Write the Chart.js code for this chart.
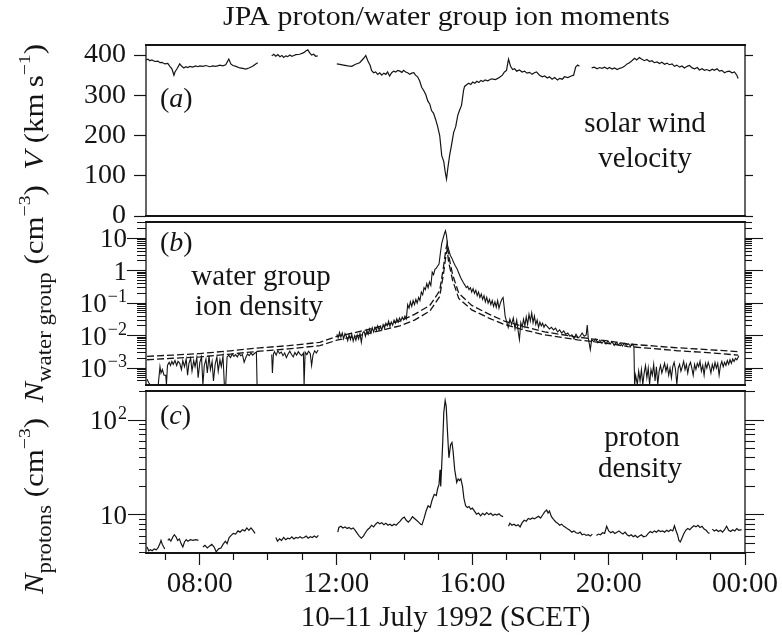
<!DOCTYPE html>
<html>
<head>
<meta charset="utf-8">
<script src="https://cdn.jsdelivr.net/npm/chart.js@4.4.1/dist/chart.umd.min.js"></script>
<style>
html,body{margin:0;padding:0;background:#fff;}
#wrap{position:relative;width:782px;height:640px;overflow:hidden;background:#fff;}
#wrap canvas{position:absolute;left:0;top:0;}
</style>
</head>
<body>
<div id="wrap">
<canvas id="cA" width="782" height="640"></canvas>
<canvas id="cB" width="782" height="640"></canvas>
<canvas id="cC" width="782" height="640"></canvas>
</div>
<script>
// ---------------- DATA (hours since 10 July 00:00, value) ----------------
const timeLabelHours = [8, 12, 16, 20, 24];
const timeTickLabels = ['08:00', '12:00', '16:00', '20:00', '00:00'];
const hourTicks = [7, 8, 9, 10, 11, 12, 13, 14, 15, 16, 17, 18, 19, 20, 21, 22, 23, 24];
const velocityTicks = [0, 100, 200, 300, 400];
const waterDecades = [0.001, 0.01, 0.1, 1, 10];
const waterTickLabels = [['10', '\u22123'], ['10', '\u22122'], ['10', '\u22121'], ['1', ''], ['10', '']];
const protonDecades = [10, 100];
const protonTickLabels = [['10', ''], ['10', '2']];

const velocityData = [
[6.42,388],[6.48,390],[6.53,386],[6.59,388],[6.68,384],[6.77,385],[6.83,381],[6.89,382],[6.97,378],[7.06,379],
[7.12,372],[7.18,366],[7.24,350],[7.27,358],[7.33,366],[7.41,378],[7.47,372],[7.53,368],[7.59,371],[7.65,369],
[7.71,372],[7.79,370],[7.88,373],[7.94,371],[8.00,373],[8.09,372],[8.18,374],[8.29,371],[8.38,373],[8.47,372],
[8.59,375],[8.67,373],[8.76,376],[8.85,390],[8.91,378],[8.97,374],[9.06,372],[9.17,368],[9.26,367],[9.35,365],
[9.44,368],[9.55,372],[9.64,378],[9.70,381],[9.90,null],
[10.11,398],[10.17,402],[10.23,397],[10.29,401],[10.35,396],[10.41,399],[10.46,394],[10.52,398],[10.58,396],[10.64,400],
[10.70,397],[10.76,399],[10.82,401],[10.93,402],[11.05,406],[11.11,410],[11.17,413],[11.22,406],[11.28,400],[11.34,402],
[11.40,397],[11.46,398],[11.75,null],
[12.02,378],[12.11,377],[12.22,375],[12.34,373],[12.46,372],[12.57,377],[12.69,381],[12.81,392],[12.87,399],[12.93,386],
[13.00,374],[13.04,362],[13.10,356],[13.16,358],[13.22,352],[13.28,356],[13.34,350],[13.40,355],[13.46,352],[13.51,358],
[13.57,348],[13.63,356],[13.69,360],[13.75,358],[13.81,362],[13.87,360],[13.93,357],[13.98,362],[14.04,358],[14.10,356],
[14.16,352],[14.22,355],[14.28,356],[14.33,350],[14.39,346],[14.45,336],[14.51,320],[14.57,312],[14.63,302],[14.69,286],
[14.75,278],[14.80,262],[14.86,255],[14.92,240],[14.98,222],[15.04,200],[15.10,150],[15.16,135],[15.20,110],[15.24,92],
[15.28,120],[15.33,150],[15.39,178],[15.45,208],[15.51,222],[15.57,250],[15.62,262],[15.68,275],[15.74,312],[15.77,322],
[15.83,326],[15.89,330],[15.95,327],[16.01,333],[16.07,330],[16.13,335],[16.19,332],[16.25,337],[16.31,334],[16.37,338],
[16.45,336],[16.56,341],[16.68,339],[16.80,345],[16.88,350],[16.94,358],[17.00,362],[17.06,390],[17.12,372],[17.18,364],
[17.24,366],[17.30,360],[17.38,363],[17.46,358],[17.53,360],[17.60,355],[17.68,357],[17.75,352],[17.82,356],[17.88,358],
[17.97,350],[18.05,346],[18.12,348],[18.20,343],[18.26,346],[18.34,340],[18.41,344],[18.50,338],[18.56,342],[18.64,340],
[18.70,346],[18.80,344],[18.90,348],[18.97,350],[19.03,370],[19.09,375],[19.14,372],[19.30,null],
[19.50,368],[19.58,370],[19.66,366],[19.73,369],[19.80,367],[19.88,370],[19.96,366],[20.02,369],[20.10,365],[20.17,368],
[20.25,364],[20.32,367],[20.40,369],[20.46,372],[20.54,378],[20.61,381],[20.68,386],[20.76,392],[20.82,388],[20.90,394],
[20.96,390],[21.05,386],[21.12,389],[21.20,384],[21.27,386],[21.34,381],[21.42,383],[21.49,379],[21.56,382],[21.64,377],
[21.71,380],[21.78,376],[21.86,378],[21.93,372],[22.00,375],[22.08,370],[22.15,373],[22.22,368],[22.30,372],[22.37,374],
[22.45,368],[22.52,366],[22.60,369],[22.66,363],[22.74,366],[22.81,362],[22.88,364],[22.96,361],[23.04,365],[23.10,362],
[23.18,366],[23.25,360],[23.32,362],[23.40,356],[23.47,359],[23.54,360],[23.62,356],[23.69,358],[23.76,350],[23.80,342]
];

const waterData = [
[6.45,0.00045],[6.50,0.00035],[6.55,0.0003],[6.60,0.00031],[6.66,0.00031],[6.72,0.0003],[6.78,0.00031],[6.83,0.0011],
[6.86,0.0007],[6.90,0.0009],[6.95,0.0006],[7.00,0.0006],[7.02,0.0003],[7.05,0.0012],[7.10,0.0015],[7.14,0.0012],
[7.18,0.0016],[7.22,0.0013],[7.27,0.0017],[7.32,0.0012],[7.36,0.0016],[7.41,0.0014],[7.46,0.0009],[7.50,0.0017],
[7.55,0.0011],[7.60,0.0019],[7.64,0.0006],[7.68,0.0014],[7.73,0.002],[7.77,0.0008],[7.82,0.0017],[7.86,0.0011],
[7.91,0.0021],[7.95,0.0005],[8.00,0.0015],[8.05,0.0022],[8.09,0.0003],[8.13,0.0012],[8.18,0.0019],[8.22,0.0007],
[8.27,0.0024],[8.31,0.0009],[8.36,0.0016],[8.40,0.0004],[8.45,0.0013],[8.50,0.0022],[8.54,0.0008],[8.59,0.0018],
[8.63,0.0011],[8.68,0.0023],[8.72,0.0003],
[8.76,0.0003],[8.80,0.0022],[8.85,0.0025],[8.90,0.0021],[8.95,0.0027],[9.00,0.0023],[9.05,0.0026],[9.10,0.0022],
[9.15,0.0028],[9.20,0.0024],[9.25,0.0026],[9.30,0.0015],[9.35,0.0021],[9.40,0.0027],[9.45,0.0024],[9.50,0.0029],
[9.55,0.0025],[9.60,0.0028],[9.66,0.0031],[9.68,0.0003],[9.90,null],
[10.11,0.0026],[10.13,0.0007],[10.16,0.0027],[10.19,0.0032],[10.24,0.0025],[10.29,0.0034],[10.34,0.0028],[10.39,0.0031],
[10.44,0.0024],[10.49,0.0029],[10.54,0.0021],[10.59,0.0027],[10.64,0.0033],[10.69,0.0026],[10.74,0.0022],[10.79,0.003],
[10.84,0.0025],[10.89,0.0032],[10.94,0.0027],[10.99,0.0024],[11.04,0.0029],[11.06,0.0003],[11.09,0.0031],[11.14,0.0026],
[11.19,0.0033],[11.24,0.0028],[11.28,0.0012],[11.32,0.0025],[11.37,0.0034],[11.42,0.0029],[11.47,0.0036],[11.75,null],
[12.02,0.011],[12.06,0.0085],[12.10,0.0125],[12.14,0.009],[12.18,0.012],[12.22,0.008],[12.26,0.0115],[12.30,0.0095],
[12.34,0.007],[12.38,0.0105],[12.42,0.0075],[12.46,0.011],[12.50,0.0068],[12.54,0.0098],[12.58,0.0072],[12.62,0.0105],
[12.66,0.0078],[12.70,0.0115],[12.74,0.0062],[12.78,0.012],[12.82,0.0135],[12.86,0.0095],[12.90,0.0145],[12.94,0.011],
[12.98,0.016],[13.02,0.012],[13.06,0.0175],[13.10,0.013],[13.14,0.018],[13.18,0.0145],[13.22,0.02],[13.26,0.015],
[13.30,0.019],[13.34,0.015],[13.38,0.022],[13.42,0.017],[13.46,0.024],[13.50,0.02],[13.54,0.028],[13.58,0.019],
[13.62,0.026],[13.66,0.021],[13.70,0.03],[13.74,0.024],[13.78,0.033],[13.82,0.026],[13.86,0.035],[13.90,0.028],
[13.94,0.037],[13.98,0.031],[14.02,0.04],[14.06,0.033],[14.10,0.09],[14.14,0.07],[14.18,0.11],[14.22,0.08],
[14.26,0.12],[14.30,0.09],[14.34,0.13],[14.38,0.1],[14.42,0.15],[14.46,0.12],[14.50,0.22],[14.54,0.18],
[14.58,0.3],[14.62,0.26],[14.66,0.4],[14.70,0.3],[14.74,0.45],[14.78,0.35],[14.82,0.9],[14.86,0.75],
[14.90,1.1],[14.94,1.2],[14.98,1.4],[15.02,1.6],[15.06,3.5],[15.10,7],[15.14,10],[15.18,14],
[15.21,17],[15.24,12],[15.27,6],[15.31,4.2],[15.35,3.0],[15.40,2.4],[15.45,1.8],[15.50,1.4],
[15.54,1.2],[15.58,0.95],[15.62,0.75],[15.66,0.6],[15.70,0.5],[15.74,0.42],[15.78,0.36],[15.82,0.3],
[15.86,0.33],[15.90,0.26],[15.94,0.3],[15.98,0.22],[16.02,0.28],[16.06,0.2],[16.10,0.25],[16.14,0.17],
[16.18,0.22],[16.22,0.15],[16.26,0.19],[16.30,0.13],[16.34,0.17],[16.38,0.11],[16.42,0.15],[16.46,0.1],
[16.50,0.13],[16.54,0.09],[16.58,0.12],[16.62,0.08],[16.66,0.11],[16.70,0.075],[16.74,0.12],[16.78,0.07],
[16.82,0.1],[16.86,0.13],[16.90,0.15],[16.93,0.08],[16.96,0.04],[17.00,0.028],[17.05,0.018],[17.10,0.032],
[17.15,0.022],[17.20,0.035],[17.25,0.016],[17.30,0.03],[17.35,0.012],[17.38,0.0075],[17.42,0.025],[17.46,0.018],
[17.50,0.032],[17.54,0.02],[17.58,0.038],[17.62,0.022],[17.66,0.045],[17.70,0.028],[17.74,0.05],[17.78,0.025],
[17.82,0.04],[17.86,0.022],[17.90,0.03],[17.94,0.018],[17.98,0.026],[18.02,0.02],[18.06,0.024],[18.10,0.018],
[18.14,0.022],[18.20,0.019],[18.26,0.016],[18.32,0.018],[18.38,0.015],[18.44,0.017],[18.50,0.013],[18.56,0.015],
[18.62,0.012],[18.68,0.014],[18.74,0.011],[18.80,0.012],[18.86,0.0095],[18.92,0.0105],[18.98,0.008],[19.04,0.011],
[19.10,0.0085],[19.16,0.0095],[19.22,0.012],[19.28,0.0095],[19.34,0.0105],[19.37,0.021],[19.40,0.0085],[19.46,0.0037],
[19.50,0.0075],[19.56,0.0065],[19.62,0.0078],[19.68,0.006],[19.74,0.0072],[19.80,0.0058],[19.86,0.007],[19.92,0.0055],
[19.98,0.0068],[20.04,0.0056],[20.10,0.0065],[20.16,0.005],[20.22,0.0062],[20.28,0.0052],[20.34,0.006],[20.40,0.0048],
[20.46,0.0058],[20.52,0.005],[20.58,0.0056],[20.64,0.0047],[20.70,0.0054],[20.74,0.0045],[20.76,0.0003],
[20.79,0.0006],[20.84,0.00031],[20.88,0.0008],[20.92,0.0004],[20.96,0.0009],[21.00,0.00031],[21.04,0.0007],[21.08,0.0012],
[21.12,0.0005],[21.16,0.001],[21.20,0.00031],[21.24,0.0009],[21.28,0.0006],[21.32,0.0013],[21.36,0.0004],[21.40,0.0011],
[21.44,0.00031],[21.48,0.0008],[21.52,0.0012],[21.56,0.0007],[21.60,0.001],[21.64,0.0014],[21.68,0.0008],[21.72,0.0012],
[21.76,0.0006],[21.80,0.001],[21.84,0.0005],[21.88,0.0011],[21.92,0.0015],[21.96,0.0009],[22.00,0.00031],[22.04,0.001],
[22.08,0.0013],[22.12,0.0008],[22.16,0.0011],[22.20,0.0016],[22.24,0.0009],[22.28,0.0013],[22.32,0.0007],[22.36,0.0012],
[22.40,0.0015],[22.44,0.001],[22.48,0.0006],[22.52,0.0013],[22.56,0.0009],[22.60,0.0014],[22.64,0.0011],[22.68,0.0016],
[22.72,0.0008],[22.76,0.0012],[22.80,0.0006],[22.84,0.0014],[22.88,0.001],[22.92,0.0015],[22.96,0.0011],[23.00,0.0007],
[23.04,0.0013],[23.08,0.0009],[23.12,0.0015],[23.16,0.001],[23.20,0.0014],[23.24,0.0006],[23.28,0.0012],[23.32,0.0016],
[23.36,0.0011],[23.40,0.0015],[23.44,0.0012],[23.48,0.0017],[23.52,0.0013],[23.56,0.0018],[23.60,0.0014],[23.64,0.0019],
[23.68,0.0016],[23.72,0.002],[23.76,0.0018],[23.82,0.0024]
];

const modelUpperData = [
[6.45,0.0023],[7.2,0.0025],[8.0,0.0028],[8.9,0.0034],[9.76,0.0042],[10.6,0.0049],[11.52,0.0062],[12.02,0.0095],
[12.5,0.012],[13.0,0.016],[13.5,0.022],[13.87,0.028],[14.3,0.045],[14.75,0.085],[15.04,0.24],[15.15,1.3],
[15.22,4.5],[15.26,7],[15.30,3],[15.42,0.75],[15.6,0.2],[15.98,0.085],[16.5,0.045],[16.94,0.028],[17.5,0.019],
[18.12,0.013],[19.09,0.009],[20.0,0.0068],[20.56,0.0055],[21.3,0.0048],[22.03,0.0042],[22.9,0.0037],[23.8,0.0032]
];
const modelLowerData = [
[6.45,0.0018],[7.2,0.002],[8.0,0.0022],[8.9,0.0027],[9.76,0.0033],[10.6,0.0039],[11.52,0.0049],[12.02,0.0072],
[12.5,0.0092],[13.0,0.012],[13.5,0.016],[13.87,0.02],[14.3,0.03],[14.75,0.057],[15.04,0.16],[15.15,0.8],
[15.22,2.8],[15.26,4.5],[15.30,1.9],[15.42,0.5],[15.6,0.14],[15.98,0.062],[16.5,0.034],[16.94,0.022],[17.5,0.015],
[18.12,0.0105],[19.09,0.0074],[20.0,0.0057],[20.56,0.0046],[21.3,0.004],[22.03,0.0034],[22.9,0.003],[23.8,0.0025]
];

const protonData = [
[6.45,4.6],[6.50,4.2],[6.55,4.3],[6.60,4.2],[6.66,4.4],[6.72,4.3],[6.77,4.5],[6.83,5.0],[6.86,5.4],[6.90,4.9],
[6.94,4.6],[6.97,4.4],[7.00,null],[7.06,5.4],[7.10,5.6],[7.15,5.3],[7.20,5.8],[7.25,6.2],[7.30,5.9],[7.35,5.4],
[7.40,5.6],[7.45,5.0],[7.50,4.6],[7.55,5.2],[7.60,5.5],[7.65,5.3],[7.72,5.5],[7.80,5.4],[7.88,5.5],[7.96,5.4],
[8.03,null],[8.09,4.6],[8.15,4.8],[8.22,4.5],[8.28,4.7],[8.35,4.9],[8.42,4.6],[8.48,4.1],[8.55,4.4],[8.62,4.5],
[8.68,4.9],[8.75,5.3],[8.80,5.0],[8.86,5.8],[8.92,6.1],[8.98,6.4],[9.05,6.3],[9.12,6.8],[9.18,6.6],[9.25,7.0],
[9.32,6.8],[9.38,7.3],[9.44,6.9],[9.50,7.3],[9.56,6.9],[9.62,6.4],[9.85,null],
[10.23,5.8],[10.28,5.3],[10.34,5.6],[10.40,5.4],[10.46,5.8],[10.52,5.5],[10.58,5.7],[10.64,5.6],[10.70,5.9],[10.76,5.6],
[10.82,5.8],[10.88,5.7],[10.94,5.9],[11.00,5.7],[11.06,5.8],[11.12,6.0],[11.18,5.7],[11.24,5.9],[11.30,5.8],[11.36,6.0],
[11.42,5.8],[11.48,6.1],[11.75,null],
[12.05,6.6],[12.08,7.4],[12.14,7.6],[12.20,7.3],[12.26,7.5],[12.32,7.2],[12.38,7.4],[12.44,7.1],[12.50,7.3],[12.56,6.9],
[12.62,6.4],[12.68,6.0],[12.74,5.7],[12.80,6.0],[12.86,6.5],[12.92,7.0],[12.98,7.3],[13.04,7.8],[13.10,7.5],[13.16,8.0],
[13.22,8.4],[13.28,8.1],[13.34,8.3],[13.40,7.9],[13.46,8.2],[13.52,7.8],[13.58,8.0],[13.64,7.7],[13.70,8.0],[13.76,7.8],
[13.82,8.2],[13.88,8.6],[13.94,9.2],[14.00,9.5],[14.06,8.8],[14.12,8.4],[14.18,8.9],[14.24,9.6],[14.30,9.2],[14.36,8.8],
[14.42,8.4],[14.48,8.0],[14.52,7.9],[14.58,9.2],[14.64,11.0],[14.70,12.5],[14.76,12.0],[14.82,14.5],[14.88,16.5],[14.94,16.0],
[14.98,19],[15.02,21],[15.05,30],[15.07,20],[15.10,34],[15.13,60],[15.16,120],[15.20,160],[15.23,140],[15.27,73],
[15.31,40],[15.36,55],[15.40,58],[15.43,48],[15.48,30],[15.54,22],[15.58,24],[15.62,23],[15.66,24],[15.71,20],
[15.75,15],[15.80,12.5],[15.85,12],[15.90,12.3],[15.95,11.5],[16.00,11.8],[16.06,11.0],[16.12,10.2],[16.18,10.5],[16.24,9.8],
[16.30,10.4],[16.36,10.0],[16.42,10.6],[16.48,10.1],[16.54,10.4],[16.60,9.9],[16.66,10.2],[16.72,10.0],[16.78,10.3],[16.84,9.8],
[16.90,9.6],[16.98,null],
[17.06,7.6],[17.10,8.2],[17.16,7.8],[17.22,8.0],[17.28,7.7],[17.34,7.9],[17.40,7.5],[17.46,8.3],[17.52,8.8],[17.58,8.6],
[17.64,9.2],[17.70,9.0],[17.76,9.3],[17.82,9.1],[17.88,9.4],[17.94,9.7],[18.00,9.3],[18.06,10.0],[18.12,10.8],[18.18,11.3],
[18.22,10.5],[18.26,11.0],[18.32,9.6],[18.38,9.0],[18.44,8.5],[18.50,8.2],[18.56,7.8],[18.62,8.0],[18.68,7.6],[18.74,7.4],
[18.80,7.1],[18.86,6.9],[18.92,6.6],[18.98,6.8],[19.04,6.5],[19.10,6.4],[19.16,6.6],[19.22,6.2],[19.28,6.3],[19.34,6.1],
[19.40,6.2],[19.46,6.0],[19.52,6.3],[19.57,null],[19.64,6.1],[19.70,6.3],[19.76,6.2],[19.82,6.5],[19.88,6.4],[19.94,7.6],
[20.00,6.8],[20.06,6.5],[20.12,6.7],[20.18,6.4],[20.24,6.6],[20.30,6.8],[20.36,6.5],[20.42,6.3],[20.48,6.6],[20.54,6.2],
[20.60,6.0],[20.66,6.2],[20.72,5.9],[20.78,6.1],[20.84,5.8],[20.90,6.0],[20.96,6.2],[21.02,5.9],[21.10,6.0],[21.16,6.4],
[21.22,6.7],[21.28,6.5],[21.34,6.8],[21.40,6.6],[21.46,6.9],[21.52,6.7],[21.58,6.8],[21.64,6.6],[21.70,6.9],[21.76,6.7],
[21.82,7.0],[21.88,6.8],[21.93,7.7],[21.97,6.9],[22.02,6.2],[22.06,5.4],[22.10,5.2],[22.14,5.6],[22.20,6.3],[22.26,6.9],
[22.32,7.2],[22.38,7.0],[22.44,7.4],[22.50,7.7],[22.56,7.5],[22.62,7.8],[22.68,7.4],[22.74,7.6],[22.80,7.1],[22.86,6.9],
[22.92,6.5],[22.96,6.4],[23.00,null],[23.04,7.1],[23.10,6.8],[23.16,7.0],[23.22,6.7],[23.28,6.9],[23.34,6.6],[23.40,7.0],
[23.46,7.6],[23.52,6.9],[23.58,6.7],[23.64,7.0],[23.70,6.8],[23.76,7.2],[23.82,6.9],[23.90,7.0]
];

// ---------------- STYLE / LAYOUT ----------------
const FONT = '"Liberation Serif", "Times New Roman", Times, serif';
const INK = '#141414';
const X_MIN = 6.42, X_MAX = 24;
Chart.defaults.font.family = FONT;
Chart.defaults.color = INK;

function pts(pairs) { return pairs.map(p => ({ x: p[0], y: p[1] })); }

function logTicks(min, max, decades) {
  const out = [];
  for (let e = -5; e <= 3; e++) {
    for (let k = 1; k <= 9; k++) {
      const v = k * Math.pow(10, e);
      if (v >= min * 0.999 && v <= max * 1.001) {
        const major = k === 1 && decades.some(d => Math.abs(d - v) / d < 1e-6);
        out.push({ value: v, major: major });
      }
    }
  }
  return out;
}

function minorDashLeft(tl, len) { return [0, tl - len, len + 40, 0]; }

const framePlugin = {
  id: 'panelFrame',
  afterDatasetsDraw(chart) {
    const { ctx, chartArea: a } = chart;
    ctx.save();
    ctx.strokeStyle = INK;
    ctx.lineWidth = 2;
    ctx.beginPath();
    ctx.moveTo(a.left - 1, a.top); ctx.lineTo(a.right + 1, a.top);
    ctx.moveTo(a.left - 1, a.bottom); ctx.lineTo(a.right + 1, a.bottom);
    ctx.stroke();
    ctx.lineWidth = 1.3;
    ctx.beginPath();
    ctx.moveTo(a.left, a.top); ctx.lineTo(a.left, a.bottom);
    ctx.moveTo(a.right, a.top); ctx.lineTo(a.right, a.bottom);
    ctx.stroke();
    ctx.restore();
  }
};

// rich text: segments {t, it, sub, sup}
function segFont(seg, size) {
  const s = seg.sub ? size * 0.74 : (seg.sup ? size * 0.64 : size);
  return { css: (seg.it ? 'italic ' : '') + s + 'px ' + FONT, dy: seg.sub ? size * 0.3 : (seg.sup ? -size * 0.5 : 0) };
}
function measureRich(ctx, segs, size) {
  let w = 0;
  for (const s of segs) { ctx.font = segFont(s, size).css; w += ctx.measureText(s.t).width; }
  return w;
}
function drawRich(ctx, segs, size) {
  let x = 0;
  ctx.textAlign = 'left';
  ctx.textBaseline = 'alphabetic';
  for (const s of segs) {
    const f = segFont(s, size);
    ctx.font = f.css;
    ctx.fillText(s.t, x, f.dy);
    x += ctx.measureText(s.t).width;
  }
  return x;
}

function textPlugin(id, items) {
  return {
    id: id,
    afterDraw(chart) {
      const ctx = chart.ctx;
      ctx.save();
      ctx.fillStyle = INK;
      for (const it of items) {
        const size = it.size;
        const w = measureRich(ctx, it.segs, size);
        ctx.save();
        const startX = it.align === 'center' ? it.x - w / 2 : it.x;
        ctx.translate(startX, it.y);
        drawRich(ctx, it.segs, size);
        ctx.restore();
      }
      ctx.restore();
    }
  };
}

function logLabelPlugin(id, scaleId, values, labels) {
  return {
    id: id,
    afterDraw(chart) {
      const s = chart.scales[scaleId];
      const ctx = chart.ctx;
      ctx.save();
      ctx.fillStyle = INK;
      ctx.textBaseline = 'alphabetic';
      ctx.textAlign = 'left';
      values.forEach((v, i) => {
        const y = s.getPixelForValue(v);
        const base = labels[i][0], exp = labels[i][1];
        ctx.font = '27px ' + FONT;
        const wb = ctx.measureText(base).width;
        ctx.font = '18px ' + FONT;
        const we = exp ? ctx.measureText(exp).width + 1 : 0;
        const right = s.right - 19;
        ctx.font = '27px ' + FONT;
        ctx.fillText(base, right - wb - we, y + 9);
        if (exp) { ctx.font = '18px ' + FONT; ctx.fillText(exp, right - we + 1, y - 1); }
      });
      ctx.restore();
    }
  };
}

function baseOptions(top, bottom) {
  return {
    responsive: false,
    animation: false,
    devicePixelRatio: 1,
    layout: { padding: { top: top, bottom: bottom, left: 0, right: 0 } },
    plugins: { legend: { display: false }, tooltip: { enabled: false }, title: { display: false } },
    elements: { point: { radius: 0, hitRadius: 0 }, line: { borderWidth: 1.2, tension: 0, borderColor: INK } },
    events: []
  };
}

function hiddenX() { return { type: 'linear', min: X_MIN, max: X_MAX, display: false }; }

// ---------------- PANEL (a): velocity ----------------
const optA = baseOptions(45, 640 - 216);
optA.scales = {
  x: hiddenX(),
  y: {
    type: 'linear', position: 'left', min: 0, max: 425,
    afterFit: s => { s.width = 146; },
    afterBuildTicks: s => { s.ticks = velocityTicks.map(v => ({ value: v, major: true })); },
    ticks: { font: { family: FONT, size: 28 }, color: INK, padding: 8, callback: v => String(v) },
    grid: { drawOnChartArea: false, drawTicks: true, tickLength: 12, tickColor: INK, tickWidth: 1.2 },
    border: { display: false }
  },
  yR: {
    type: 'linear', position: 'right', min: 0, max: 425,
    afterFit: s => { s.width = 782 - 745; },
    afterBuildTicks: s => { s.ticks = velocityTicks.map(v => ({ value: v, major: true })); },
    ticks: { display: false },
    grid: { drawOnChartArea: false, drawTicks: true, tickLength: 8, tickColor: INK, tickWidth: 1.2 },
    border: { display: false }
  }
};
new Chart(document.getElementById('cA'), {
  type: 'line',
  data: { datasets: [{ data: pts(velocityData), xAxisID: 'x', yAxisID: 'y', spanGaps: false, borderColor: INK, borderWidth: 1.2 }] },
  options: optA,
  plugins: [framePlugin, textPlugin('txtA', [
    { x: 160, y: 107, size: 28, segs: [{ t: '(' }, { t: 'a', it: true }, { t: ')' }] },
    { x: 645, y: 132, size: 29, align: 'center', segs: [{ t: 'solar wind' }] },
    { x: 645, y: 167, size: 29, align: 'center', segs: [{ t: 'velocity' }] }
  ])]
});

// ---------------- PANEL (b): water group density ----------------
const W_MIN = 3.06e-4, W_MAX = 31.7;
const optB = baseOptions(222, 640 - 385);
optB.scales = {
  x: hiddenX(),
  y: {
    type: 'logarithmic', position: 'left', min: W_MIN, max: W_MAX,
    afterFit: s => { s.width = 146; },
    afterBuildTicks: s => { s.ticks = logTicks(W_MIN, W_MAX, waterDecades); },
    ticks: { display: false },
    grid: { drawOnChartArea: false, drawTicks: true, tickLength: 19, tickColor: INK, tickWidth: 1.1,
      tickBorderDash: c => (c.tick && c.tick.major) ? [] : minorDashLeft(19, 9) },
    border: { display: false }
  },
  yR: {
    type: 'logarithmic', position: 'right', min: W_MIN, max: W_MAX,
    afterFit: s => { s.width = 782 - 745; },
    afterBuildTicks: s => { s.ticks = logTicks(W_MIN, W_MAX, waterDecades); },
    ticks: { display: false },
    grid: { drawOnChartArea: false, drawTicks: true, tickLength: 18, tickColor: INK, tickWidth: 1.1,
      tickBorderDash: c => (c.tick && c.tick.major) ? [] : [7, 60] },
    border: { display: false }
  }
};
new Chart(document.getElementById('cB'), {
  type: 'line',
  data: { datasets: [
    { data: pts(waterData), xAxisID: 'x', yAxisID: 'y', spanGaps: false, borderColor: INK, borderWidth: 1.1 },
    { data: pts(modelUpperData), xAxisID: 'x', yAxisID: 'y', borderColor: INK, borderWidth: 1.3, borderDash: [7, 3] },
    { data: pts(modelLowerData), xAxisID: 'x', yAxisID: 'y', borderColor: INK, borderWidth: 1.3, borderDash: [7, 3] }
  ] },
  options: optB,
  plugins: [framePlugin, logLabelPlugin('labB', 'y', waterDecades, waterTickLabels), textPlugin('txtB', [
    { x: 160, y: 251, size: 28, segs: [{ t: '(' }, { t: 'b', it: true }, { t: ')' }] },
    { x: 261, y: 285, size: 29, align: 'center', segs: [{ t: 'water group' }] },
    { x: 259, y: 315, size: 29, align: 'center', segs: [{ t: 'ion density' }] }
  ])]
});

// ---------------- PANEL (c): proton density ----------------
const P_MIN = 3.98, P_MAX = 202;
const titleText = 'JPA proton/water group ion moments';
const xAxisTitle = '10\u201311 July 1992 (SCET)';
const yTitleSegs = [
  { t: 'N', it: true }, { t: 'protons', sub: true }, { t: ' (cm' }, { t: '\u22123', sup: true }, { t: ')  ' },
  { t: 'N', it: true }, { t: 'water group', sub: true }, { t: ' (cm' }, { t: '\u22123', sup: true }, { t: ')  ' },
  { t: 'V', it: true }, { t: ' (km\u2009s' }, { t: '\u22121', sup: true }, { t: ')' }
];

const globalTextPlugin = {
  id: 'globalText',
  afterDraw(chart) {
    const ctx = chart.ctx;
    ctx.save();
    ctx.fillStyle = INK;
    // main title, stretched to the reference width
    ctx.font = '27px ' + FONT;
    const tw = ctx.measureText(titleText).width;
    ctx.save();
    ctx.translate(446.5, 25);
    ctx.scale(447 / tw, 1);
    ctx.textAlign = 'center';
    ctx.textBaseline = 'alphabetic';
    ctx.fillText(titleText, 0, 0);
    ctx.restore();
    // rotated combined y-axis title
    const size = 27;
    const w = measureRich(ctx, yTitleSegs, size);
    ctx.save();
    ctx.translate(43, 594);
    ctx.rotate(-Math.PI / 2);
    ctx.scale(550 / w, 1);
    drawRich(ctx, yTitleSegs, size);
    ctx.restore();
    ctx.restore();
  }
};

const optC = baseOptions(391, 0);
optC.scales = {
  x: {
    type: 'linear', position: 'bottom', min: X_MIN, max: X_MAX,
    afterFit: s => { s.height = 640 - 553; },
    afterBuildTicks: s => { s.ticks = hourTicks.map(h => ({ value: h, major: timeLabelHours.includes(h) })); },
    ticks: { autoSkip: false, maxRotation: 0, minRotation: 0, font: { family: FONT, size: 29 }, color: INK, padding: 2,
      callback: v => { const i = timeLabelHours.indexOf(v); return i >= 0 ? timeTickLabels[i] : ''; } },
    grid: { drawOnChartArea: false, drawTicks: true, tickLength: 12, tickColor: INK, tickWidth: 1.2,
      tickBorderDash: c => (c.tick && c.tick.major) ? [] : [7, 60] },
    border: { display: false },
    title: { display: true, text: xAxisTitle, font: { family: FONT, size: 29 }, color: INK, padding: { top: 0, bottom: 4 } }
  },
  y: {
    type: 'logarithmic', position: 'left', min: P_MIN, max: P_MAX,
    afterFit: s => { s.width = 146; },
    afterBuildTicks: s => { s.ticks = logTicks(P_MIN, P_MAX, protonDecades); },
    ticks: { display: false },
    grid: { drawOnChartArea: false, drawTicks: true, tickLength: 18, tickColor: INK, tickWidth: 1.1,
      tickBorderDash: c => (c.tick && c.tick.major) ? [] : minorDashLeft(18, 7) },
    border: { display: false }
  },
  yR: {
    type: 'logarithmic', position: 'right', min: P_MIN, max: P_MAX,
    afterFit: s => { s.width = 782 - 745; },
    afterBuildTicks: s => { s.ticks = logTicks(P_MIN, P_MAX, protonDecades); },
    ticks: { display: false },
    grid: { drawOnChartArea: false, drawTicks: true, tickLength: 19, tickColor: INK, tickWidth: 1.1,
      tickBorderDash: c => (c.tick && c.tick.major) ? [] : [10, 60] },
    border: { display: false }
  }
};
new Chart(document.getElementById('cC'), {
  type: 'line',
  data: { datasets: [{ data: pts(protonData), xAxisID: 'x', yAxisID: 'y', spanGaps: false, borderColor: INK, borderWidth: 1.2 }] },
  options: optC,
  plugins: [framePlugin, logLabelPlugin('labC', 'y', protonDecades, protonTickLabels), textPlugin('txtC', [
    { x: 160, y: 424, size: 28, segs: [{ t: '(' }, { t: 'c', it: true }, { t: ')' }] },
    { x: 642, y: 446, size: 29, align: 'center', segs: [{ t: 'proton' }] },
    { x: 640, y: 477, size: 29, align: 'center', segs: [{ t: 'density' }] }
  ]), globalTextPlugin]
});
</script>
</body>
</html>
